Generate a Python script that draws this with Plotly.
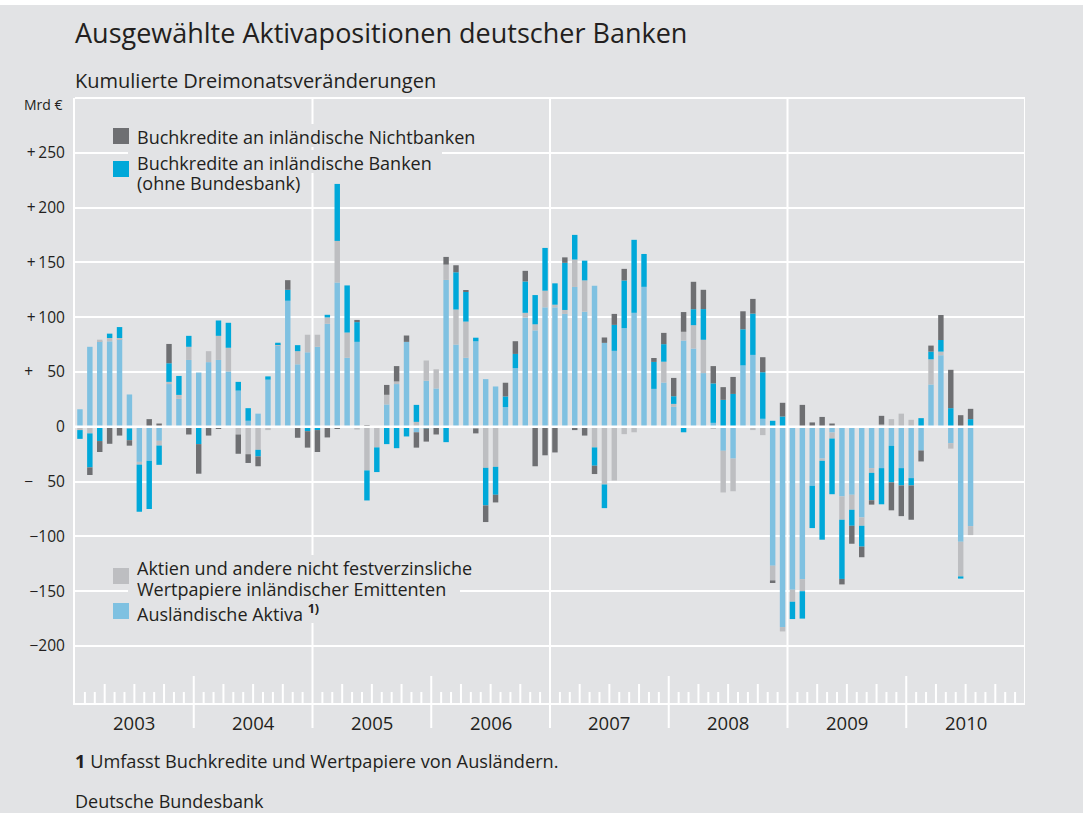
import plotly.graph_objects as go

# ---------------- data (Mrd €, kumulierte Dreimonatsveränderungen) ----------------
years = ["2003", "2004", "2005", "2006", "2007", "2008", "2009", "2010"]
months = [f"{y}-{m:02d}" for y in years for m in range(1, 13)][:91]

auslaendische_aktiva = [
    16, 73, 78, 78, 80, 29.5, -32, -31, -12.8, 39, 25.5, 61,
    49.5, 59, 61, 50.5, 33, 5.5, 12, 43, 74.5, 115, 57, 68,
    73, 94, 131.6, 63, 77.5, 0, 0, 20.4, 39, 77.5, -5, 42,
    35, 134, 75, 63, 78, 43.5, 36.8, 18, 53.5, 99.7, 88, 109,
    109, 103, 127.6, 105, 128.6, 76.6, 69.3, 90, 104, 127.7, 34.6, 40.4,
    18.2, 78.7, 71.4, 49, 3.6, -21.9, -29, 56, 65.6, 7.3, -126.7, -182.7,
    -148.6, -139, -53.8, -29, -5.2, -63.5, -62, -82.7, -37.7, -37.7, -17.3, -37.7,
    -46.8, -21.6, 38.6, 65.3, -14.9, -104.9, -90.6,
]
aktien = [
    -3, -6, 1.5, 3, 1, -1.5, -2.5, 0, -4.3, 2, 3.6, 12,
    0, 10, 22, 21.6, -7, -25, -21, -3, 1, 0, 12, 16,
    11, 5.8, 38, 23, -2.5, -39.8, -18.8, 8.8, 2.4, 0, 4.5, 18.5,
    17.5, 14, 32, 33, -1.5, -37.4, -36.5, -1, 0, 4.3, 5.5, 15.2,
    2.4, 3.6, 25, 28.6, -18.8, -52.6, -49, -6.7, -5, -1, 0, 19,
    2.7, 8, 21.3, 30.4, -2, -38, -29.8, 0, -3, -7.6, -13.4, -4,
    -11, -11, 0, -2, -5.5, -21.3, -13.7, -7.6, -4.3, 2, 7, 12,
    6.4, 0, 23, 3.3, -5, -31.6, -8.2,
]
banken = [
    -8, -31, -13, 4, 10, -10.7, -43, -44, -17.6, 17, 17.3, 10,
    -15.8, -1, 14, 22.8, 8, 11.5, -6, 3, 1.2, 10, 5.5, -4,
    -3, 2.4, 52, 43, 18, -27.4, -22.5, -15.8, -19.5, -8.8, 15.5, -1.5,
    0, -14, 34, 27, 3.3, -34.3, -25.5, 9.7, 13, 28.6, 26.7, 39,
    19.5, 43, 22.5, 18, -16.7, -21.6, 23.7, 43.5, 66.6, 30, 24.6, 16,
    7, -5, 14.6, 28, 36, 24.6, 30, 33, 37.7, 42.5, 5.5, 9.4,
    -15.8, -25, -38.6, -72, -50.8, -54, -14.6, -19, -25, -33, -33.4, -15.8,
    -6.7, 7.9, 7, 10.6, 17, -2, 7,
]
nichtbanken = [
    0, -7, -10, -15.5, -8, -5, 0, 7, 3, 17.6, 0, -7,
    -27, -7, -2, 0, -17.6, -8, -9, 0, -1, 8.8, -10, -15,
    -20, -9.7, -2, 0, 2, 1.5, 0, 9, 14, 5.8, -14, -12,
    -7, 7, 6.4, 1.5, -4.5, -15.2, -7, 12.5, 11.6, 9.7, -36, -26,
    -23.4, 5, -3, -8, -7.6, 4.9, 10, 10.6, 0, 0, 3.6, 10.3,
    16.7, 18, 25, 17.6, 15.8, 11.6, 15.5, 16.4, 13.4, 13.7, -2.4, 12.5,
    0, 20, 4, 9, 3, -5, -16.4, -9.7, -4, 8, -25.5, -28,
    -31.3, -10, 5.5, 22.8, 35, 10.6, 9.4,
]

y_tickvals = [250, 200, 150, 100, 50, 0, -50, -100, -150, -200]
y_ticktext = ["+\u2009250", "+\u2009200", "+\u2009150", "+\u2009100", "+\u2009\u2007\u200950", "0",
              "\u2212\u2009\u2007\u200950", "\u2212100", "\u2212150", "\u2212200"]

names = {
    "lb": "Ausländische Aktiva",
    "lg": "Aktien und andere nicht festverzinsliche Wertpapiere inländischer Emittenten",
    "b": "Buchkredite an inländische Banken (ohne Bundesbank)",
    "dg": "Buchkredite an inländische Nichtbanken",
}

# ---------------- style ----------------
BG = "#e2e3e5"
C_LB = "#7fc1e1"
C_LG = "#bdbec1"
C_B = "#00a8d9"
C_DG = "#6e6f72"
TXT = "#231f20"
FONT = "Open Sans"

L, R, T, B = 75, 58, 98, 110
W, H = 1083, 813
PW, PH = W - L - R, H - T - B


def px_x(px):
    return (px - L) / PW


def px_y(py):
    return (H - B - py) / PH


x = [i + 0.5 for i in range(len(months))]

fig = go.Figure()
for key, vals, col in [("lb", auslaendische_aktiva, C_LB), ("lg", aktien, C_LG),
                       ("b", banken, C_B), ("dg", nichtbanken, C_DG)]:
    fig.add_trace(go.Bar(
        x=x, y=vals, name=names[key], width=0.55, customdata=months,
        marker=dict(color=col, line=dict(width=0)),
        hovertemplate="%{customdata}: %{y}<extra>" + names[key][:30] + "</extra>",
        showlegend=False,
    ))

shapes = []
# month / quarter / year ticks and 2-year vertical grid lines
for m in range(1, 96):
    if m % 24 == 0:
        y0, y1 = -25 / PH, 1
    elif m % 12 == 0:
        y0, y1 = -25 / PH, 27 / PH
    elif m % 3 == 0:
        y0, y1 = 0, 19 / PH
    else:
        y0, y1 = 0, 11 / PH
    shapes.append(dict(type="line", xref="x", yref="paper", x0=m, x1=m, y0=y0, y1=y1,
                       line=dict(color="white", width=2), layer="below"))
# right edge and top edge
shapes.append(dict(type="line", xref="x", yref="paper", x0=96, x1=96, y0=0, y1=1,
                   line=dict(color="white", width=2), layer="below"))
shapes.append(dict(type="line", xref="paper", yref="paper", x0=0, x1=1, y0=1, y1=1,
                   line=dict(color="white", width=2), layer="below"))
# zero line over bars
shapes.append(dict(type="line", xref="paper", yref="y", x0=0, x1=1, y0=0, y1=0,
                   line=dict(color="white", width=2.5), layer="above"))
# thin white strip along the top edge of the page
shapes.append(dict(type="rect", xref="paper", yref="paper", x0=px_x(0), x1=px_x(W),
                   y0=px_y(5), y1=px_y(-2), fillcolor="white", line=dict(width=0),
                   layer="above"))

annotations = []


def txt(x_px, y_px, text, size, anchor="left"):
    annotations.append(dict(xref="paper", yref="paper", x=px_x(x_px), y=px_y(y_px),
                            xanchor=anchor, yanchor="middle", align="left", text=text,
                            showarrow=False, font=dict(family=FONT, size=size, color=TXT)))


# manual legend: (colour, square top, square bottom, [(line text, line centre y, mask right x)])
legend_items = [
    (C_DG, 128, 144, [("Buchkredite an inländische Nichtbanken", 136, 486)]),
    (C_B, 161, 177, [("Buchkredite an inländische Banken", 162, 442),
                     ("(ohne Bundesbank)", 182, 306)]),
    (C_LG, 568, 584, [("Aktien und andere nicht festverzinsliche", 567, 486),
                      ("Wertpapiere inländischer Emittenten", 588, 460)]),
    (C_LB, 603, 619, [("Ausländische Aktiva <sup><b>1)</b></sup>", 612, 330)]),
]
# background masks hiding grid lines behind the legend text
for col, sy0, sy1, lines in legend_items:
    for text, ty, xr in lines:
        shapes.append(dict(type="rect", xref="paper", yref="paper",
                           x0=px_x(128), x1=px_x(xr), y0=px_y(ty + 11), y1=px_y(ty - 12),
                           fillcolor=BG, line=dict(width=0), layer="above"))
for col, sy0, sy1, lines in legend_items:
    shapes.append(dict(type="rect", xref="paper", yref="paper",
                       x0=px_x(113), x1=px_x(129), y0=px_y(sy1), y1=px_y(sy0),
                       fillcolor=col, line=dict(width=0), layer="above"))
    for text, ty, xr in lines:
        txt(135, ty + 1, text, 18)

# year labels
for k, yr in enumerate(years):
    annotations.append(dict(xref="x", yref="paper", x=12 * k + 6, y=px_y(722),
                            xanchor="center", yanchor="middle", text=yr, showarrow=False,
                            font=dict(family=FONT, size=18.5, color=TXT)))

# unit label
txt(65, 105, "Mrd €", 14, anchor="right")
# titles
txt(73, 33, "Ausgewählte Aktivapositionen deutscher Banken", 27)
txt(73, 80, "Kumulierte Dreimonatsveränderungen", 20)
# footnote and source
txt(73, 761, "<b>1</b> Umfasst Buchkredite und Wertpapiere von Ausländern.", 18.2)
txt(73, 801, "Deutsche Bundesbank", 18)

fig.update_layout(
    width=W, height=H,
    margin=dict(l=L, r=R, t=T, b=B, pad=0),
    paper_bgcolor=BG, plot_bgcolor=BG,
    barmode="relative",
    font=dict(family=FONT, color=TXT),
    shapes=shapes, annotations=annotations,
    showlegend=False,
    xaxis=dict(range=[0, 96], showgrid=False, zeroline=False, showticklabels=False,
               ticks="", showline=True, linecolor="white", linewidth=2, fixedrange=True),
    yaxis=dict(range=[-252, 300], tickvals=y_tickvals, ticktext=y_ticktext,
               showgrid=True, gridcolor="white", gridwidth=2, zeroline=False,
               showline=True, linecolor="white", linewidth=2,
               ticks="outside", ticklen=5, tickcolor=BG,
               tickfont=dict(family=FONT, size=15.5, color=TXT), fixedrange=True),
)

fig.write_html("out.html", config={"displayModeBar": False},
               post_script="document.body.style.margin='0';document.body.style.overflow='hidden';")
